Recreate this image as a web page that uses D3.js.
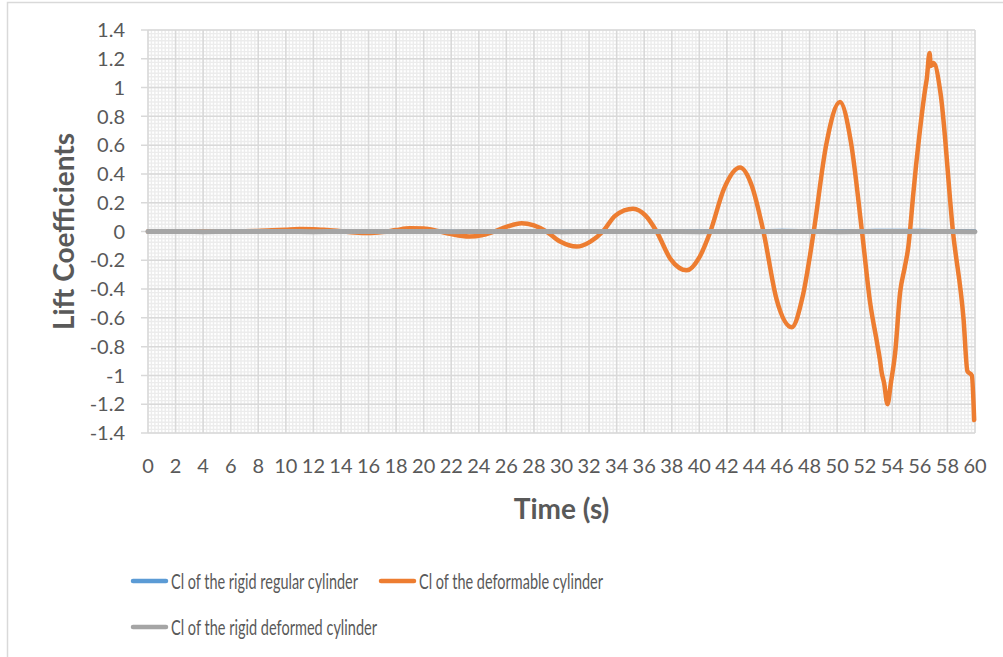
<!DOCTYPE html>
<html>
  <head>
    <meta charset="utf-8">
    <title>Lift Coefficients</title>
    <script src="https://cdnjs.cloudflare.com/ajax/libs/d3/7.8.5/d3.min.js"></script>
    <style>
      body { margin: 0; background: #fff; }
      text { font-family: Lato, "Open Sans", sans-serif; fill: #595959; }
    </style>
  </head>
  <body>
    <div id="chart"></div>
    <script>
      // values
      var xTicks = [0,2,4,6,8,10,12,14,16,18,20,22,24,26,28,30,32,34,36,38,40,42,44,46,48,50,52,54,56,58,60];
      var yTicks = [-1.4,-1.2,-1,-0.8,-0.6,-0.4,-0.2,0,0.2,0.4,0.6,0.8,1,1.2,1.4];

      var rigidTime = [0,2,4,6,8,10,12,14,16,18,20,22,24,26,28,30,32,34,36,38,40,42,44,46,48,50,52,54,56,58,60];
      var regularCl = [0,0.001,0.001,0,0.001,0.002,0.002,0.001,0.001,0.003,0.004,0.003,0.002,0.004,0.005,0.004,0.005,0.006,0.007,0.006,0.006,0.007,0.006,0.008,0.007,0.006,0.007,0.009,0.008,0.007,0.006];
      var deformedCl = [0,0,-0.001,0,0,0,-0.001,0,0,0,0,-0.001,0,0,0,-0.001,0,0,0,0,-0.001,0,0,0,0,-0.001,0,0,0,0,-0.001];

      var deformTime = [0,1,2,3,4,5,6,7,8,9,10,11,12,13,14,15,16,17,18,19,20,21,22,23.3,24.2,25,26,27.1,28,28.9,
        29.9,31.1,32.1,33,33.9,35.2,36.1,36.9,37.9,39.1,40,40.8,41.8,42.95,43.8,44.65,45.6,46.7,47.5,48.3,
        49.2,50.2,51,51.8,52.4,52.87,53.1,53.23,53.4,53.65,53.9,54.2,54.57,54.9,55.17,55.3,55.5,56,56.4,56.5,
        56.7,56.8,57,57.5,58.4,59.17,59.45,59.77,59.94];
      var deformCl = [0,0.001,0.002,0.001,0,0,0.001,0.002,0.004,0.008,0.013,0.017,0.016,0.01,0.002,-0.007,-0.011,-0.004,0.01,0.022,0.02,0.004,-0.018,-0.035,-0.026,-0.004,0.032,0.058,0.042,0,
        -0.07,-0.105,-0.07,0,0.11,0.158,0.11,0,-0.19,-0.27,-0.18,0,0.3,0.445,0.32,0,-0.47,-0.665,-0.45,0,
        0.6,0.9,0.62,0,-0.5,-0.76,-0.89,-0.98,-1.05,-1.2,-1.05,-0.85,-0.42,-0.25,-0.1,0.02,0.24,0.7,1.0,1.06,
        1.24,1.15,1.17,0.96,0,-0.61,-0.97,-1.0,-1.31];

      var seriesNames = ['Cl of the rigid regular cylinder', 'Cl of the deformable cylinder', 'Cl of the rigid deformed cylinder'];
      var seriesColors = ['#5b9bd5', '#ed7d31', '#a5a5a5'];

      var width = 1003;
      var height = 657;

      var x = d3.scaleLinear().domain([0, 60]).range([148, 975]);
      var y = d3.scaleLinear().domain([-1.4, 1.4]).range([433, 30]);

      var svg = d3.select('#chart')
        .append('svg')
        .attr('width', width)
        .attr('height', height);

      // outer frame (top and left edges only)
      svg.append('path')
        .attr('d', 'M7.5,657V2.5H1003')
        .attr('fill', 'none')
        .attr('stroke', '#d9d9d9')
        .attr('stroke-width', 1.5);

      // minor grid
      var minor = svg.append('g');
      minor.selectAll('.mx')
        .data(d3.range(0, 60.01, 0.25))
        .enter().append('line')
        .attr('x1', function(d) { return x(d); })
        .attr('x2', function(d) { return x(d); })
        .attr('y1', y(1.4)).attr('y2', y(-1.4))
        .attr('stroke', '#ececec').attr('stroke-width', 1.4);
      minor.selectAll('.my')
        .data(d3.range(-1.4, 1.401, 0.025))
        .enter().append('line')
        .attr('y1', function(d) { return y(d); })
        .attr('y2', function(d) { return y(d); })
        .attr('x1', x(0)).attr('x2', x(60))
        .attr('stroke', '#ececec').attr('stroke-width', 1.4);

      // major grid
      svg.append('g').selectAll('line')
        .data(xTicks)
        .enter().append('line')
        .attr('x1', function(d) { return x(d); })
        .attr('x2', function(d) { return x(d); })
        .attr('y1', y(1.4)).attr('y2', y(-1.4))
        .attr('stroke', '#d9d9d9').attr('stroke-width', 1.5);
      svg.append('g').selectAll('line')
        .data(yTicks)
        .enter().append('line')
        .attr('y1', function(d) { return y(d); })
        .attr('y2', function(d) { return y(d); })
        .attr('x1', x(0) - 7).attr('x2', x(60))
        .attr('stroke', '#d9d9d9').attr('stroke-width', 1.5);

      // axes labels
      svg.append('g').selectAll('text')
        .data(yTicks)
        .enter().append('text')
        .attr('x', 125)
        .attr('y', function(d) { return y(d); })
        .attr('dy', '0.36em')
        .attr('text-anchor', 'end')
        .style('font-size', '20px')
        .text(function(d) { return d3.format('')(d).replace('−', '-'); });

      svg.append('g').selectAll('text')
        .data(xTicks)
        .enter().append('text')
        .attr('x', function(d) { return x(d); })
        .attr('y', 473)
        .attr('text-anchor', 'middle')
        .style('font-size', '20px')
        .text(function(d) { return d; });

      svg.append('text')
        .attr('x', (x(0) + x(60)) / 2)
        .attr('y', 519)
        .attr('text-anchor', 'middle')
        .style('font-size', '28px')
        .style('font-weight', 'bold')
        .text('Time (s)');

      svg.append('text')
        .attr('transform', 'translate(74,' + y(0) + ') rotate(-90)')
        .attr('text-anchor', 'middle')
        .style('font-size', '28px')
        .style('font-weight', 'bold')
        .text('Lift Coefficients');

      // series
      var line = d3.line()
        .x(function(d) { return x(d[0]); })
        .y(function(d) { return y(d[1]); })
        .curve(d3.curveMonotoneX);

      var series = [
        { data: d3.zip(rigidTime, regularCl), color: seriesColors[0], w: 3 },
        { data: d3.zip(deformTime, deformCl), color: seriesColors[1], w: 4.5 },
        { data: d3.zip(rigidTime, deformedCl), color: seriesColors[2], w: 5 }
      ];

      svg.append('g').selectAll('path')
        .data(series)
        .enter().append('path')
        .attr('d', function(d) { return line(d.data); })
        .attr('fill', 'none')
        .attr('stroke', function(d) { return d.color; })
        .attr('stroke-width', function(d) { return d.w; })
        .attr('stroke-linejoin', 'round')
        .attr('stroke-linecap', 'round');

      // legend
      var legendPos = [
        { x: 133, y: 581, w: 187 },
        { x: 381, y: 581, w: 184 },
        { x: 133, y: 627, w: 206 }
      ];
      var legend = svg.selectAll('.legend')
        .data(seriesNames)
        .enter().append('g')
        .attr('class', 'legend')
        .attr('transform', function(d, i) {
          return 'translate(' + legendPos[i].x + ',' + legendPos[i].y + ')';
        });
      legend.append('line')
        .attr('x1', 0).attr('x2', 33)
        .attr('stroke', function(d, i) { return seriesColors[i]; })
        .attr('stroke-width', 4.5)
        .attr('stroke-linecap', 'round');
      legend.append('text')
        .attr('x', 38)
        .attr('y', 8)
        .attr('textLength', function(d, i) { return legendPos[i].w; })
        .attr('lengthAdjust', 'spacingAndGlyphs')
        .style('font-size', '21px')
        .text(function(d) { return d; });
    </script>
  </body>
</html>
